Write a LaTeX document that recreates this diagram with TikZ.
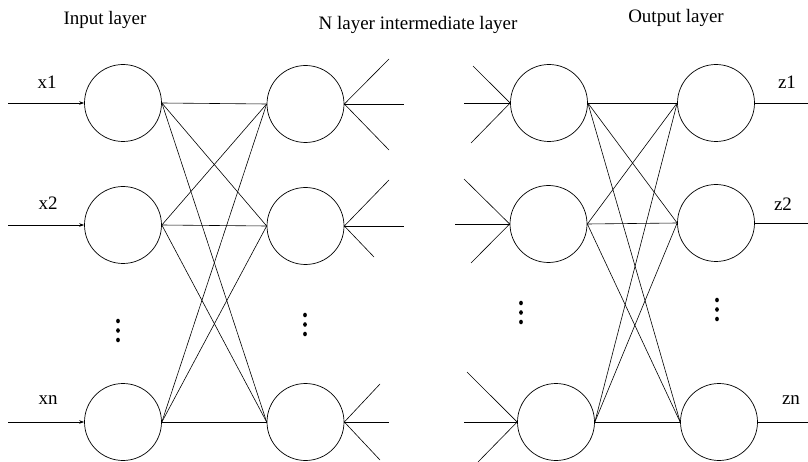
\documentclass[tikz,border=0pt]{standalone}
\usepackage{fontspec}
\setmainfont{Liberation Serif}
\usetikzlibrary{arrows.meta,shapes.geometric}
\begin{document}
\begin{tikzpicture}[x=1pt,y=-1pt,
  neuron/.style={draw,circle,minimum size=77pt,inner sep=0pt,line width=0.7pt},
  conn/.style={line width=0.6pt},
  inarrow/.style={line width=0.6pt,-{Stealth[length=5pt,width=3.5pt]}},
  lab/.style={font=\fontsize{19}{22}\selectfont,inner sep=0pt},
  dotmark/.style={fill,ellipse,inner sep=0pt,minimum width=3.8pt,minimum height=4.6pt}]
\useasboundingbox (0,0) rectangle (808,462);
% titles
\node[lab] (t1) at (105,20) {Input layer};
\node[lab] (t2) at (418,25) {N layer intermediate layer};
\node[lab] (t3) at (676,18) {Output layer};
% neurons
\node[neuron] (a1) at (123,103) {};
\node[neuron] (a2) at (123,225) {};
\node[neuron] (a3) at (123,422) {};
\node[neuron] (b1) at (305.5,104) {};
\node[neuron] (b2) at (305.5,226) {};
\node[neuron] (b3) at (305.5,422) {};
\node[neuron] (c1) at (549,103) {};
\node[neuron] (c2) at (548.5,224) {};
\node[neuron] (c3) at (556,422) {};
\node[neuron] (d1) at (716,103) {};
\node[neuron] (d2) at (716,223) {};
\node[neuron] (d3) at (719,422) {};
% inputs
\coordinate (i1) at (8,103);
\coordinate (i2) at (8,225);
\coordinate (i3) at (8,422);
\draw[inarrow] (i1) -- (a1.west);
\draw[inarrow] (i2) -- (a2.west);
\draw[inarrow] (i3) -- (a3.west);
\node[lab] (lx1) at (47,82) {x1};
\node[lab] (lx2) at (48,203) {x2};
\node[lab] (lxn) at (48,400) {xn};
% outputs
\coordinate (o1) at (808,103);
\coordinate (o2) at (808,223);
\coordinate (o3) at (808,422);
\draw[conn] (d1.east) -- (o1);
\draw[conn] (d2.east) -- (o2);
\draw[conn] (d3.east) -- (o3);
\node[lab] (lz1) at (787,82) {z1};
\node[lab] (lz2) at (783,204) {z2};
\node[lab] (lzn) at (791,400) {zn};
% full connections
\foreach \s in {a1,a2,a3}{\foreach \t in {b1,b2,b3}{\draw[conn] (\s.east) -- (\t.west);}}
\foreach \s in {c1,c2,c3}{\foreach \t in {d1,d2,d3}{\draw[conn] (\s.east) -- (\t.west);}}
% stubs right of middle layer
\coordinate (r11) at (389,59);  \coordinate (r12) at (404,104); \coordinate (r13) at (389,150);
\coordinate (r21) at (389,180); \coordinate (r22) at (404,226); \coordinate (r23) at (374,257);
\coordinate (r31) at (380,384); \coordinate (r32) at (389,422); \coordinate (r33) at (380,460);
\foreach \k in {1,2,3}{\draw[conn] (b1.east) -- (r1\k); \draw[conn] (b2.east) -- (r2\k); \draw[conn] (b3.east) -- (r3\k);}
% stubs left of third layer
\coordinate (l11) at (473,66);  \coordinate (l12) at (464,103); \coordinate (l13) at (471,143);
\coordinate (l21) at (464,179); \coordinate (l22) at (455,224); \coordinate (l23) at (471,263);
\coordinate (l31) at (467,372); \coordinate (l32) at (464,422); \coordinate (l33) at (478,462);
\foreach \k in {1,2,3}{\draw[conn] (l1\k) -- (c1.west); \draw[conn] (l2\k) -- (c2.west); \draw[conn] (l3\k) -- (c3.west);}
% vertical dots
\foreach \y [count=\i] in {321,330.5,340}{\node[dotmark] (da\i) at (118,\y) {};}
\foreach \y [count=\i] in {315,324.5,334}{\node[dotmark] (db\i) at (305,\y) {};}
\foreach \y [count=\i] in {303,312.5,322}{\node[dotmark] (dc\i) at (521,\y) {};}
\foreach \y [count=\i] in {300,309.5,319}{\node[dotmark] (dd\i) at (717,\y) {};}
\end{tikzpicture}
\end{document}
